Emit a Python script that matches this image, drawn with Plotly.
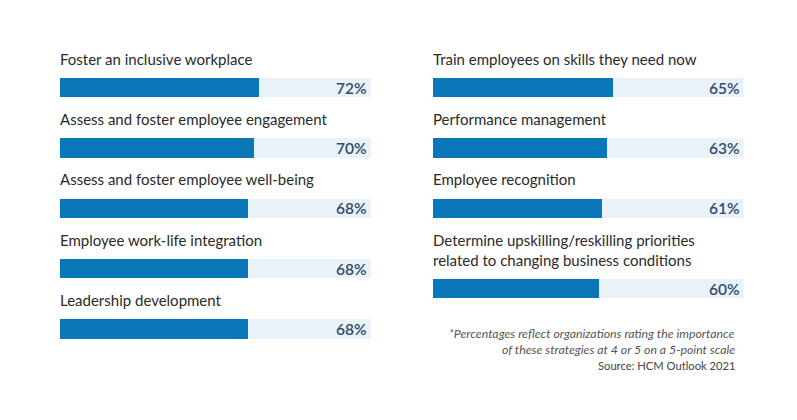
import plotly.graph_objects as go

# ---- data ----
left_labels = [
    "Foster an inclusive workplace",
    "Assess and foster employee engagement",
    "Assess and foster employee well-being",
    "Employee work-life integration",
    "Leadership development",
]
left_values = [72, 70, 68, 68, 68]

right_labels = [
    "Train employees on skills they need now",
    "Performance management",
    "Employee recognition",
    "Determine upskilling/reskilling priorities<br>related to changing business conditions",
]
right_values = [65, 63, 61, 60]

footnote_lines = [
    "*Percentages reflect organizations rating the importance",
    "of these strategies at 4 or 5 on a 5-point scale",
]
source_text = "Source: HCM Outlook 2021"

# ---- style / layout ----
W, H = 797, 420
OFF = 8  # page body margin offset
FILL = "#0a78b8"
TRACK = "#e9f2f9"
LABEL_COLOR = "#2a2a2a"
PCT_COLOR = "#2f4b6e"
FONT = "Lato"
XMAX = 112.4
BAR_H = 19.5
ROW_GAP = 60.4
FIRST_ROW = 87.5
LABEL_OFFSET = 29
EXTRA_LINE = 20

left_y = [FIRST_ROW + ROW_GAP * i for i in range(len(left_labels))]
right_y = []
acc = FIRST_ROW
for i, lab in enumerate(right_labels):
    if i > 0:
        acc += ROW_GAP
        acc += EXTRA_LINE * lab.count("<br>")
    right_y.append(acc)

fig = go.Figure()

def add_column(labels, values, ys, xa, ya):
    fig.add_trace(go.Bar(
        x=[XMAX] * len(values), y=ys, orientation="h", width=BAR_H,
        marker=dict(color=TRACK, line=dict(width=0)),
        xaxis=xa, yaxis=ya, hoverinfo="skip", showlegend=False,
    ))
    fig.add_trace(go.Bar(
        x=values, y=ys, orientation="h", width=BAR_H,
        marker=dict(color=FILL, line=dict(width=0)),
        xaxis=xa, yaxis=ya, showlegend=False,
    ))
    for lab, v, yv in zip(labels, values, ys):
        nlines = lab.count("<br>")
        fig.add_annotation(
            x=0, y=yv - LABEL_OFFSET - EXTRA_LINE * nlines / 2,
            xref=xa, yref=ya, text=lab, showarrow=False,
            xanchor="left", yanchor="middle", align="left",
            font=dict(family=FONT, size=15, color=LABEL_COLOR),
            xshift=-2,
        )
        fig.add_annotation(
            x=XMAX, y=yv, xref=xa, yref=ya, text=f"{v}%",
            showarrow=False, xanchor="right", yanchor="middle",
            font=dict(family=FONT, size=15.5, color=PCT_COLOR, weight=600),
            xshift=-2,
        )

add_column(left_labels, left_values, left_y, "x", "y")
add_column(right_labels, right_values, right_y, "x2", "y2")

def px_x(p):
    return (p - OFF) / W

def px_y(p):
    return 1 - (p - OFF) / H

# footnote
foot_y = [333, 349]
for line, fy in zip(footnote_lines, foot_y):
    fig.add_annotation(
        x=px_x(737), y=px_y(fy), xref="paper", yref="paper", text=line,
        showarrow=False, xanchor="right", yanchor="middle",
        font=dict(family=FONT, size=12.3, color="#555555", style="italic"),
    )
fig.add_annotation(
    x=px_x(737), y=px_y(365), xref="paper", yref="paper", text=source_text,
    showarrow=False, xanchor="right", yanchor="middle",
    font=dict(family=FONT, size=11.2, color="#444444"),
)

axis_common = dict(showgrid=False, zeroline=False, showticklabels=False,
                   showline=False, ticks="", fixedrange=True)
fig.update_layout(
    width=W, height=H,
    margin=dict(l=0, r=0, t=0, b=0),
    paper_bgcolor="white", plot_bgcolor="white",
    barmode="overlay", bargap=0,
    xaxis=dict(domain=[px_x(60), px_x(371)], range=[0, XMAX], **axis_common),
    xaxis2=dict(domain=[px_x(432.5), px_x(743.5)], range=[0, XMAX], **axis_common),
    yaxis=dict(domain=[0, 1], range=[H + OFF, OFF], **axis_common),
    yaxis2=dict(domain=[0, 1], range=[H + OFF, OFF], anchor="x2", **axis_common),
    showlegend=False,
)

fig.write_html("out.html")
